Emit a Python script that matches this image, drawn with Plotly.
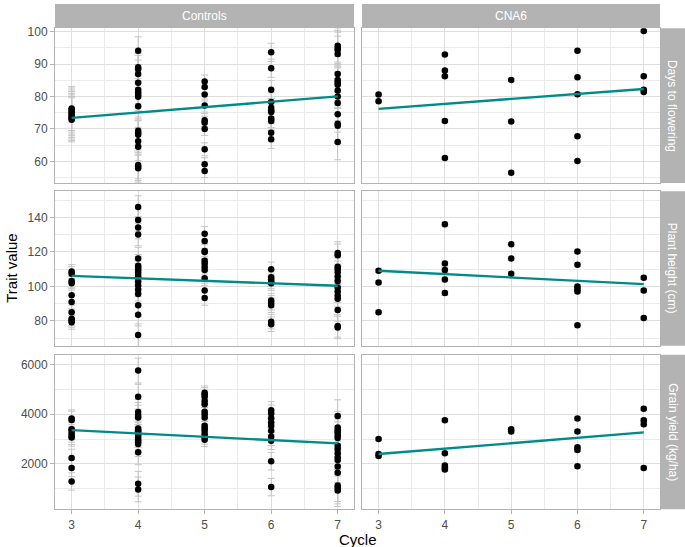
import plotly.graph_objects as go

W, H = 685, 547

groups = ["Controls", "CNA6"]
traits = ["Days to flowering", "Plant height (cm)", "Grain yield (kg/ha)"]
cycle_ticks = [3, 4, 5, 6, 7]

# ---- Days to flowering ----
dtf_controls = {
    3: [76.3, 75.8, 75.2, 74.7, 74.2, 73.7, 73.2, 72.8],
    4: [94.1, 89.0, 88.4, 86.9, 84.2, 82.1, 81.3, 80.5, 79.9, 77.0, 69.4, 68.8, 68.2, 66.2, 64.5, 58.9, 58.4, 57.9],
    5: [84.6, 82.9, 80.6, 77.2, 72.7, 71.9, 70.0, 63.7, 59.1, 57.0],
    6: [93.6, 88.7, 82.1, 78.3, 76.5, 75.7, 75.2, 73.2, 72.4, 68.8, 66.8],
    7: [95.6, 94.9, 94.3, 93.1, 86.9, 85.1, 84.3, 83.6, 81.8, 80.0, 78.0, 74.5, 71.6, 71.0, 66.0],
}
dtf_controls_se = {3: 6.8, 4: 4.3, 5: 2.0, 6: 2.8, 7: 5.5}
dtf_cna6 = {
    3: [80.6, 78.5],
    4: [92.9, 88.0, 86.2, 72.4, 61.0],
    5: [85.1, 72.3, 56.5],
    6: [94.1, 85.9, 80.7, 67.7, 60.1],
    7: [100.2, 86.2, 82.1, 81.4],
}
dtf_cna6_se = {3: 0.4, 4: 0.4, 5: 0.4, 6: 0.4, 7: 0.4}
dtf_controls_fit = [73.4, 80.0]
dtf_cna6_fit = [76.2, 82.3]

# ---- Plant height ----
ph_controls = {
    3: [108.6, 107.4, 103.2, 101.9, 94.9, 91.0, 85.1, 81.3, 80.4, 79.2],
    4: [146.1, 138.5, 134.1, 130.1, 116.2, 112.0, 110.9, 109.5, 108.2, 106.7, 105.3, 102.9, 100.6, 98.1, 95.6, 89.1, 83.6, 71.8],
    5: [130.5, 126.3, 120.6, 120.0, 114.9, 113.3, 111.4, 109.5, 104.8, 97.7, 93.3],
    6: [109.9, 105.3, 104.2, 102.9, 101.9, 91.8, 90.5, 89.1, 79.6, 78.1],
    7: [119.4, 118.1, 111.4, 110.1, 108.2, 105.7, 103.2, 99.4, 97.1, 94.7, 92.8, 86.3, 77.1, 76.2],
}
ph_controls_se = {3: 4.0, 4: 6.5, 5: 4.2, 6: 4.2, 7: 6.5}
ph_cna6 = {
    3: [109.1, 102.3, 85.0],
    4: [136.0, 113.3, 109.5, 104.0, 96.2],
    5: [124.4, 116.2, 107.4],
    6: [120.2, 112.6, 100.0, 98.5, 97.1, 77.5],
    7: [105.1, 97.7, 81.7],
}
ph_cna6_se = {3: 1.0, 4: 1.4, 5: 1.0, 6: 1.0, 7: 1.0}
ph_controls_fit = [106.1, 100.4]
ph_cna6_fit = [109.1, 101.3]

# ---- Grain yield ----
gy_controls = {
    3: [3827, 3773, 3400, 3333, 3227, 3133, 3067, 2240, 1840, 1293],
    4: [5760, 4707, 4093, 3973, 3867, 3427, 3360, 3307, 3227, 3160, 3067, 2973, 2893, 2800, 2467, 1200, 973],
    5: [4867, 4800, 4707, 4533, 4400, 4107, 4000, 3867, 3533, 3440, 3333, 3200, 3067, 2973],
    6: [4160, 4027, 3840, 3667, 3533, 3333, 3093, 2933, 2107, 1067],
    7: [3933, 3467, 3360, 3267, 3160, 3040, 2733, 2600, 2427, 2267, 2160, 1893, 1640, 1133, 1040, 933],
}
gy_controls_se = {3: 350, 4: 500, 5: 270, 6: 350, 7: 650}
gy_cna6 = {
    3: [3000, 2400, 2320],
    4: [3760, 2427, 1933, 1840, 1773],
    5: [3400, 3307],
    6: [3827, 3307, 2667, 2560, 1907],
    7: [4227, 3760, 3600, 1840],
}
gy_cna6_se = {3: 70, 4: 70, 5: 70, 6: 70, 7: 70}
gy_controls_fit = [3360, 2827]
gy_cna6_fit = [2400, 3267]
fit_cycles = [3, 7]

panels = [
    [(dtf_controls, dtf_controls_se, dtf_controls_fit), (dtf_cna6, dtf_cna6_se, dtf_cna6_fit)],
    [(ph_controls, ph_controls_se, ph_controls_fit), (ph_cna6, ph_cna6_se, ph_cna6_fit)],
    [(gy_controls, gy_controls_se, gy_controls_fit), (gy_cna6, gy_cna6_se, gy_cna6_fit)],
]

y_ranges = [[53.3, 101.0], [65.6, 155.2], [172, 6400]]
y_dticks = [(10, 5), (20, 10), (2000, 1000)]
x_range = [2.75, 7.245]

# pixel layout
col_px = [(55, 354), (362, 660)]
row_px = [(24.5, 180.4), (188.6, 344.3), (353.3, 509.0)]
strip_top = (0, 24)
strip_right = (660.5, 685)

def px_x(p):
    return p / W

def px_y(p):
    return 1 - p / H

FONT = "Liberation Sans, Arial, Helvetica, sans-serif"
GRID = "#DEDEDE"
MINOR = "#EBEBEB"
BORDER = "#B3B3B3"
STRIP = "#B3B3B3"
TEAL = "#008B8B"
ERR = "#C4C4C4"

fig = go.Figure()
layout = dict(
    width=W, height=H, autosize=False,
    margin=dict(l=0, r=0, t=0, b=0),
    paper_bgcolor="white", plot_bgcolor="white",
    showlegend=False,
    font=dict(family=FONT, size=12, color="#4D4D4D"),
)

shapes = []
annotations = []

for r in range(3):
    for c in range(2):
        k = r * 2 + c + 1
        xa = "x" if k == 1 else f"x{k}"
        ya = "y" if k == 1 else f"y{k}"
        data, se, fit = panels[r][c]
        xs, ys, es = [], [], []
        for cyc in cycle_ticks:
            for v in data[cyc]:
                xs.append(cyc)
                ys.append(v)
                es.append(se[cyc])
        fig.add_trace(go.Scatter(
            x=xs, y=ys, mode="markers", xaxis=xa, yaxis=ya,
            marker=dict(color="black", size=6.5, line=dict(width=0)),
            error_y=dict(type="data", array=es, visible=True, color=ERR, thickness=1, width=3.5),
            hoverinfo="skip",
        ))
        fig.add_trace(go.Scatter(
            x=fit_cycles, y=fit, mode="lines", xaxis=xa, yaxis=ya,
            line=dict(color=TEAL, width=2.3), hoverinfo="skip",
        ))
        x0, x1 = col_px[c]
        y0, y1 = row_px[r]
        xkey = "xaxis" if k == 1 else f"xaxis{k}"
        ykey = "yaxis" if k == 1 else f"yaxis{k}"
        layout[xkey] = dict(
            domain=[px_x(x0), px_x(x1)], anchor=ya, range=x_range,
            tickmode="array", tickvals=cycle_ticks, ticktext=[str(t) for t in cycle_ticks],
            showticklabels=(r == 2), ticks="outside" if r == 2 else "",
            ticklen=4, tickcolor=BORDER, tickwidth=1,
            tickfont=dict(size=12, color="#4D4D4D", family=FONT),
            showgrid=True, gridcolor=GRID, gridwidth=1,
            minor=dict(dtick=0.5, tick0=2.5, showgrid=True, gridcolor=MINOR, gridwidth=0.6, ticks=""),
            showline=True, linecolor=BORDER, linewidth=1, mirror=True,
            zeroline=False, fixedrange=True,
        )
        d, md = y_dticks[r]
        layout[ykey] = dict(
            domain=[px_y(y1), px_y(y0)], anchor=xa, range=y_ranges[r],
            tick0=0, dtick=d, tickformat="d",
            showticklabels=(c == 0), ticks="outside" if c == 0 else "",
            ticklen=4, tickcolor=BORDER, tickwidth=1,
            tickfont=dict(size=12, color="#4D4D4D", family=FONT),
            showgrid=True, gridcolor=GRID, gridwidth=1,
            minor=dict(dtick=md, tick0=0, showgrid=True, gridcolor=MINOR, gridwidth=0.6, ticks=""),
            showline=True, linecolor=BORDER, linewidth=1, mirror=True,
            zeroline=False, fixedrange=True,
        )

# top strips
for c, g in enumerate(groups):
    x0, x1 = col_px[c]
    shapes.append(dict(type="rect", xref="paper", yref="paper",
                       x0=px_x(x0), x1=px_x(x1), y0=px_y(strip_top[1]), y1=px_y(strip_top[0]),
                       fillcolor=STRIP, line=dict(width=0), layer="below"))
    annotations.append(dict(text=g, xref="paper", yref="paper",
                            x=px_x((x0 + x1) / 2), y=px_y((strip_top[0] + strip_top[1]) / 2),
                            showarrow=False, xanchor="center", yanchor="middle",
                            font=dict(size=12, color="white", family=FONT)))
# right strips
for r, t in enumerate(traits):
    y0, y1 = row_px[r]
    shapes.append(dict(type="rect", xref="paper", yref="paper",
                       x0=px_x(strip_right[0]), x1=px_x(strip_right[1]), y0=px_y(y1), y1=px_y(y0),
                       fillcolor=STRIP, line=dict(width=0), layer="below"))
    annotations.append(dict(text=t, xref="paper", yref="paper",
                            x=px_x((strip_right[0] + strip_right[1]) / 2), y=px_y((y0 + y1) / 2),
                            showarrow=False, xanchor="center", yanchor="middle", textangle=90,
                            font=dict(size=12, color="white", family=FONT)))

# axis titles
annotations.append(dict(text="Trait value", xref="paper", yref="paper",
                        x=px_x(12), y=px_y((row_px[0][0] + row_px[2][1]) / 2),
                        showarrow=False, xanchor="center", yanchor="middle", textangle=-90,
                        font=dict(size=15, color="black", family=FONT)))
annotations.append(dict(text="Cycle", xref="paper", yref="paper",
                        x=px_x((col_px[0][0] + col_px[1][1]) / 2), y=px_y(539),
                        showarrow=False, xanchor="center", yanchor="middle",
                        font=dict(size=15, color="black", family=FONT)))

layout["shapes"] = shapes
layout["annotations"] = annotations
fig.update_layout(**layout)
fig.write_html(
    "out.html",
    config={"displayModeBar": False},
    post_script="document.body.style.margin='0';document.body.style.overflow='hidden';",
)
